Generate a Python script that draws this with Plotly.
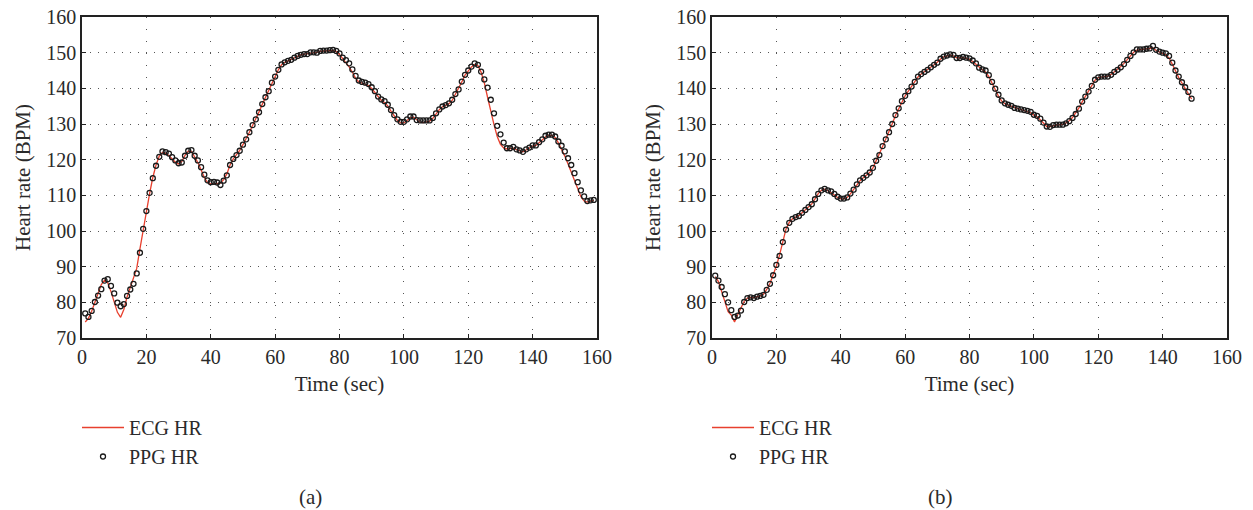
import plotly.graph_objects as go

# ---------------- data ----------------
time_a = list(range(1, 160))
ppg_a = [76.9, 75.9, 77.6, 80.1, 81.9, 83.7, 86.1, 86.5, 84.6, 82.5,
         79.9, 78.9, 79.5, 81.8, 83.6, 85.2, 88.1, 93.9, 100.6, 105.6,
         110.7, 114.8, 118.3, 120.8, 122.3, 122.1, 121.7, 120.7, 119.8, 119.0,
         119.2, 121.1, 122.5, 122.7, 121.1, 119.8, 117.9, 115.8, 114.2, 113.7,
         113.8, 113.6, 112.9, 114.1, 115.6, 118.5, 120.2, 121.3, 122.5, 124.2,
         125.7, 127.7, 129.7, 131.3, 133.3, 135.6, 137.5, 139.2, 141.6, 143.3,
         145.2, 146.7, 147.3, 147.7, 148.0, 148.6, 149.1, 149.4, 149.6, 149.6,
         150.1, 150.1, 150.0, 150.5, 150.6, 150.6, 150.7, 150.8, 150.5, 149.8,
         148.6, 147.9, 147.0, 145.3, 143.5, 142.2, 141.8, 141.6, 141.2, 140.3,
         139.2, 137.7, 136.9, 136.4, 135.4, 133.9, 132.5, 131.3, 130.6, 130.6,
         131.3, 132.1, 132.1, 131.1, 131.0, 131.0, 131.0, 131.0, 131.7, 133.0,
         134.1, 134.9, 135.3, 135.8, 136.8, 138.4, 139.7, 141.9, 143.8, 145.0,
         146.1, 147.0, 146.6, 144.7, 142.5, 140.2, 136.8, 133.0, 129.5, 127.1,
         124.8, 123.2, 123.2, 123.6, 122.9, 122.6, 122.2, 122.9, 123.4, 124.0,
         124.0, 124.9, 125.7, 126.7, 127.0, 127.0, 126.5, 125.1, 123.9, 122.3,
         120.4, 118.5, 116.2, 113.7, 111.4, 109.7, 108.4, 108.6, 108.7]
ecg_a = [74.5, 75.5, 77.5, 80.0, 82.5, 85.0, 86.2, 85.5, 83.0, 80.0,
         77.2, 75.8, 78.0, 81.5, 84.0, 86.5, 89.5, 95.0, 100.5, 105.5,
         110.5, 115.0, 118.5, 121.0, 122.0, 121.8, 121.2, 120.2, 119.3, 118.8,
         119.5, 121.2, 122.4, 122.3, 120.8, 119.2, 117.2, 115.0, 113.6, 113.2,
         113.2, 113.3, 113.4, 114.4, 116.0, 118.5, 120.2, 121.4, 122.6, 124.2,
         125.8, 127.7, 129.6, 131.4, 133.4, 135.5, 137.5, 139.3, 141.5, 143.4,
         145.2, 146.6, 147.3, 147.7, 148.1, 148.6, 149.1, 149.4, 149.6, 149.7,
         150.0, 150.1, 150.1, 150.4, 150.5, 150.5, 150.6, 150.6, 150.3, 149.5,
         148.3, 147.3, 146.0, 144.5, 142.8, 141.8, 141.4, 141.2, 140.8, 140.0,
         138.8, 137.5, 136.6, 136.0, 135.1, 133.6, 132.2, 131.0, 130.3, 130.3,
         131.0, 131.8, 131.9, 131.1, 130.5, 130.4, 130.5, 130.8, 131.6, 132.8,
         134.0, 134.8, 135.2, 135.7, 136.6, 138.3, 139.8, 141.8, 143.7, 145.0,
         146.0, 146.7, 146.4, 144.5, 141.5, 137.5, 133.5, 129.8, 126.5, 124.3,
         123.3, 123.0, 123.1, 123.2, 122.8, 122.4, 122.2, 122.7, 123.2, 123.8,
         124.0, 124.7, 125.5, 126.4, 126.8, 126.8, 126.2, 124.7, 123.0, 121.0,
         118.8, 116.5, 114.0, 111.5, 109.6, 108.4, 108.1, 108.4, 108.6]

time_b = list(range(1, 150))
ppg_b = [87.5, 86.1, 84.3, 82.3, 80.0, 77.8, 75.9, 76.3, 77.7, 80.1,
         81.2, 81.4, 81.2, 81.6, 81.8, 82.1, 83.5, 85.2, 87.6, 90.5,
         93.0, 96.9, 100.4, 102.3, 103.4, 103.9, 104.2, 105.1, 105.9, 106.7,
         107.5, 108.9, 110.4, 111.4, 111.8, 111.4, 111.1, 110.4, 109.6, 109.1,
         109.1, 109.4, 110.5, 111.6, 113.1, 114.2, 114.9, 115.6, 116.4, 117.7,
         119.7, 121.3, 123.8, 125.7, 127.7, 130.0, 132.5, 134.4, 136.4, 137.9,
         139.2, 140.5, 141.8, 143.3, 144.0, 144.6, 145.2, 145.9, 146.6, 147.2,
         148.3, 148.9, 149.2, 149.5, 149.4, 148.5, 148.5, 148.8, 148.6, 148.4,
         147.8, 147.0, 145.8, 145.3, 145.0, 143.7, 141.8, 139.9, 138.2, 136.6,
         135.8, 135.4, 135.1, 134.5, 134.3, 134.1, 133.9, 133.7, 133.4, 132.6,
         132.3, 131.5, 130.4, 129.3, 129.2, 129.7, 129.8, 129.8, 129.8, 130.2,
         130.8, 131.7, 132.8, 134.3, 136.3, 137.7, 139.1, 140.7, 142.4, 143.1,
         143.3, 143.3, 143.3, 143.8, 144.6, 145.2, 145.9, 146.8, 148.0, 149.1,
         150.1, 150.9, 150.9, 150.9, 151.1, 151.2, 151.9, 150.8, 150.3, 150.0,
         149.8, 149.1, 147.2, 145.0, 143.3, 141.7, 140.3, 139.0, 137.1]
ecg_b = [87.2, 85.8, 83.0, 80.2, 77.4, 76.4, 74.5, 76.6, 78.4, 80.3,
         81.2, 81.4, 81.3, 81.5, 81.8, 82.3, 83.6, 85.3, 87.6, 90.2,
         93.3, 97.2, 100.6, 102.4, 103.4, 103.9, 104.3, 105.1, 105.9, 106.7,
         107.6, 109.0, 110.5, 111.4, 111.7, 111.3, 110.8, 110.1, 109.4, 109.0,
         109.0, 109.4, 110.4, 111.6, 113.0, 114.1, 114.9, 115.6, 116.4, 117.7,
         119.6, 121.5, 123.7, 125.8, 127.8, 130.1, 132.4, 134.4, 136.3, 137.9,
         139.2, 140.5, 141.9, 143.2, 144.0, 144.6, 145.2, 145.9, 146.6, 147.3,
         148.2, 148.8, 149.1, 149.3, 149.1, 148.6, 148.5, 148.6, 148.4, 148.1,
         147.5, 146.7, 145.8, 145.2, 144.6, 143.3, 141.5, 139.5, 137.8, 136.4,
         135.7, 135.3, 135.0, 134.5, 134.2, 134.0, 133.8, 133.5, 133.1, 132.5,
         132.0, 131.2, 130.2, 129.3, 129.3, 129.6, 129.7, 129.8, 129.9, 130.3,
         130.9, 131.8, 133.0, 134.5, 136.2, 137.7, 139.2, 140.8, 142.3, 143.0,
         143.2, 143.3, 143.4, 143.9, 144.6, 145.3, 146.1, 147.0, 148.1, 149.2,
         150.1, 150.7, 150.8, 150.8, 150.9, 151.1, 151.3, 150.6, 150.1, 149.8,
         149.4, 148.5, 146.8, 144.8, 143.0, 141.5, 140.0, 138.6, 137.0]

x_ticks = [0, 20, 40, 60, 80, 100, 120, 140, 160]
y_ticks = [70, 80, 90, 100, 110, 120, 130, 140, 150, 160]
panel_labels = ["(a)", "(b)"]
series_names = ["ECG HR", "PPG HR"]

# ---------------- style ----------------
W, H = 1253, 510
FONT = "Liberation Serif"
TXT = "#2a2a2a"
RED = "#e8402e"
DOT = "#555555"

def px_x(p):
    return p / W

def px_y(p):
    return 1 - p / H

fig = go.Figure()

panels = [
    (time_a, ecg_a, ppg_a, "x", "y", "legend"),
    (time_b, ecg_b, ppg_b, "x2", "y2", "legend2"),
]
for t, ecg, ppg, xa, ya, lg in panels:
    fig.add_trace(go.Scatter(
        x=t, y=ecg, mode="lines", name=series_names[0],
        line=dict(color=RED, width=1.3), xaxis=xa, yaxis=ya, legend=lg))
    fig.add_trace(go.Scatter(
        x=t, y=ppg, mode="markers", name=series_names[1],
        marker=dict(symbol="circle-open", size=5, color="#1a1a1a",
                    line=dict(width=1.3, color="#1a1a1a")),
        xaxis=xa, yaxis=ya, legend=lg))

domains_x = [[px_x(82), px_x(597)], [px_x(712), px_x(1227)]]
dom_y = [px_y(338), px_y(17)]

axis_common = dict(
    showline=True, linecolor="#222222", linewidth=1.5, mirror=True,
    showgrid=True, gridcolor=DOT, gridwidth=1,
    ticks="inside", ticklen=4, tickcolor="#222222", tickwidth=1,
    tickfont=dict(family=FONT, size=20, color=TXT),
    ticklabeloverflow="allow",
    zeroline=False, automargin=False,
)

layout_axes = {}
for i, dx in enumerate(domains_x):
    xs = "xaxis" if i == 0 else "xaxis2"
    ys = "yaxis" if i == 0 else "yaxis2"
    layout_axes[xs] = dict(
        axis_common, domain=dx, range=[0, 160], tickvals=x_ticks,
        griddash="1px,11px", anchor="y" if i == 0 else "y2",
        title=dict(text="Time (sec)", font=dict(family=FONT, size=21, color=TXT),
                   standoff=10),
    )
    layout_axes[ys] = dict(
        axis_common, domain=dom_y, range=[70, 160], tickvals=y_ticks,
        griddash="1px,7px", anchor="x" if i == 0 else "x2",
        title=dict(text="Heart rate (BPM)", font=dict(family=FONT, size=21, color=TXT),
                   standoff=10),
    )

legend_common = dict(
    font=dict(family=FONT, size=20, color=TXT),
    bgcolor="rgba(0,0,0,0)", xanchor="left", yanchor="top",
    tracegroupgap=0, itemwidth=42,
)

fig.update_layout(
    width=W, height=H, margin=dict(l=0, r=0, t=0, b=0),
    paper_bgcolor="white", plot_bgcolor="white",
    showlegend=True,
    legend=dict(legend_common, x=px_x(77), y=px_y(408)),
    legend2=dict(legend_common, x=px_x(707), y=px_y(408)),
    **layout_axes,
)

for lab, cx in zip(panel_labels, [310, 940]):
    fig.add_annotation(text=lab, x=px_x(cx), y=px_y(497), xref="paper", yref="paper",
                       showarrow=False, font=dict(family=FONT, size=21, color=TXT),
                       xanchor="center", yanchor="middle")

# remove the default 8px page margin so the figure fills the window exactly
fig.write_html("out.html",
               config={"displayModeBar": False},
               post_script="document.body.style.margin='0';"
                           "document.body.style.overflow='hidden';")
